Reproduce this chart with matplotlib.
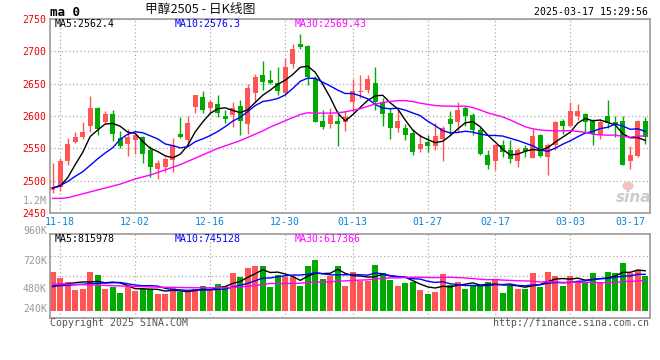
import numpy as np
import pandas as pd
import matplotlib
matplotlib.use('Agg')
import matplotlib.pyplot as plt
from matplotlib.patches import Ellipse

plt.rcParams['font.family'] = ['DejaVu Sans Mono']
plt.rcParams['font.size'] = 7.1

# trading days (CZCE), holidays removed
days = pd.bdate_range('2024-11-15', '2025-03-17')
holidays = pd.to_datetime(['2025-01-01', '2025-01-28', '2025-01-29', '2025-01-30',
                           '2025-01-31', '2025-02-03', '2025-02-04'])
days = days[~days.isin(holidays)]

opens = [2486, 2491, 2531, 2560, 2567, 2584, 2612, 2590, 2603, 2566,
         2557, 2563, 2567, 2547, 2518, 2521, 2532, 2572, 2563, 2614,
         2629, 2613, 2618, 2600, 2602, 2615, 2588, 2636, 2663, 2655,
         2651, 2635, 2680, 2711, 2708, 2657, 2593, 2588, 2592, 2590,
         2621, 2637, 2640, 2651, 2622, 2605, 2581, 2581, 2574, 2549,
         2560, 2554, 2564, 2596, 2590, 2613, 2602, 2579, 2540, 2530,
         2555, 2548, 2530, 2550, 2536, 2571, 2537, 2555, 2593, 2585,
         2600, 2603, 2594, 2571, 2600, 2591, 2593, 2531, 2538, 2593]
highs = [2528, 2535, 2566, 2576, 2591, 2631, 2614, 2607, 2609, 2577,
         2580, 2573, 2569, 2553, 2532, 2537, 2566, 2599, 2600, 2633,
         2639, 2625, 2632, 2610, 2621, 2624, 2650, 2665, 2685, 2671,
         2676, 2689, 2711, 2726, 2710, 2661, 2609, 2613, 2607, 2607,
         2657, 2663, 2663, 2675, 2627, 2613, 2610, 2587, 2580, 2572,
         2570, 2589, 2584, 2608, 2621, 2615, 2604, 2583, 2548, 2557,
         2563, 2563, 2551, 2555, 2580, 2573, 2558, 2592, 2596, 2622,
         2618, 2604, 2596, 2596, 2625, 2600, 2600, 2553, 2594, 2598]
lows = [2481, 2484, 2524, 2558, 2565, 2576, 2571, 2588, 2562, 2550,
        2539, 2542, 2528, 2506, 2503, 2513, 2513, 2566, 2554, 2605,
        2605, 2604, 2599, 2589, 2583, 2571, 2573, 2622, 2640, 2650,
        2632, 2632, 2674, 2704, 2648, 2590, 2580, 2581, 2553, 2577,
        2606, 2627, 2635, 2610, 2584, 2565, 2576, 2563, 2540, 2545,
        2545, 2548, 2530, 2571, 2576, 2584, 2571, 2540, 2519, 2516,
        2537, 2527, 2521, 2537, 2535, 2537, 2509, 2548, 2572, 2583,
        2594, 2576, 2555, 2564, 2581, 2568, 2524, 2518, 2537, 2557]
closes = [2490, 2530, 2557, 2568, 2575, 2612, 2580, 2603, 2573, 2553,
          2567, 2570, 2541, 2521, 2527, 2534, 2555, 2568, 2589, 2632,
          2610, 2621, 2604, 2596, 2612, 2593, 2643, 2660, 2652, 2651,
          2638, 2675, 2704, 2707, 2660, 2591, 2583, 2602, 2588, 2598,
          2639, 2639, 2657, 2622, 2603, 2581, 2592, 2571, 2545, 2557,
          2553, 2569, 2581, 2588, 2609, 2600, 2579, 2541, 2524, 2555,
          2545, 2534, 2548, 2546, 2569, 2538, 2555, 2590, 2585, 2607,
          2608, 2591, 2572, 2591, 2589, 2588, 2524, 2540, 2593, 2567]
# volume, thousand lots
volumes_k = [796, 673, 592, 422, 449, 796, 734, 449, 490, 367,
             524, 408, 449, 449, 347, 347, 490, 381, 381, 449,
             504, 449, 551, 510, 775, 694, 877, 918, 918, 490,
             734, 680, 680, 510, 918, 1034, 647, 714, 912, 504,
             796, 612, 612, 938, 775, 626, 504, 571, 592, 422,
             341, 388, 749, 524, 592, 449, 524, 524, 592, 626,
             367, 504, 449, 449, 775, 490, 796, 714, 504, 714,
             592, 592, 775, 592, 796, 775, 979, 775, 830, 714]

# moving averages before enough bars are in the window (carried from earlier days)
ma5_head = [2489, 2492, 2505, 2525]
ma10_head = [2489, 2493, 2499, 2507, 2514, 2524, 2534, 2543, 2551]
ma30_head = [2473, 2473, 2474, 2477, 2480, 2483, 2486, 2489, 2492, 2495,
             2499, 2503, 2506, 2509, 2513, 2517, 2521, 2525, 2530, 2535,
             2540, 2545, 2550, 2554, 2558, 2562, 2567, 2572, 2577]
vol_ma5_head = [490, 530, 550, 570]
vol_ma10_head = [500, 510, 520, 530, 540, 550, 560, 565, 570]
vol_ma30_head = [545, 545, 540, 535, 530, 525, 520, 515, 510, 505,
                 500, 495, 490, 485, 480, 477, 475, 473, 470, 468,
                 467, 467, 468, 470, 475, 485, 500, 515, 535]

tick_dates = ['2024-11-18', '2024-12-02', '2024-12-16', '2024-12-30', '2025-01-13',
              '2025-01-27', '2025-02-17', '2025-03-03', '2025-03-17']
price_ticks = [2450, 2500, 2550, 2600, 2650, 2700, 2750]
vol_labels = ['1.2M', '960K', '720K', '480K', '240K']
vol_label_y = [201, 230.7, 260.7, 289.3, 309.3]  # pixel rows
legend_price = ['MA5:2562.4', 'MA10:2576.3', 'MA30:2569.43']
legend_vol = ['MA5:815978', 'MA10:745128', 'MA30:617366']
ma_colors = ['black', '#0000ff', '#ff00ff']

RED = '#ff5555'
GREEN = '#00aa00'
GRID = '#aaaaaa'
BORDER = '#999999'


def moving_avg(values, n, head):
    s = pd.Series(values, dtype=float).rolling(n).mean()
    s.iloc[:n - 1] = head
    return s.values


o = np.array(opens, float)
h = np.array(highs, float)
l = np.array(lows, float)
c = np.array(closes, float)
vol = np.array(volumes_k, float) * 1000
x = np.arange(len(days))
cols = np.where(c >= o, RED, GREEN)

W, H = 660, 360
fig = plt.figure(figsize=(6.6, 3.6), dpi=100)


def px_axes(left, top, right, bottom):
    return fig.add_axes([left / W, 1 - bottom / H, (right - left) / W, (bottom - top) / H])


ax = px_axes(50, 18.7, 649.5, 213.3)
axv = px_axes(50, 234.3, 649.5, 318)

tick_idx = [days.get_loc(pd.Timestamp(d)) for d in tick_dates]
tick_lbl = [d[5:] for d in tick_dates]

# candles
ax.vlines(x, l, h, colors=cols, lw=1, zorder=2)
ax.bar(x, np.maximum(np.abs(c - o), 0.8), bottom=np.minimum(o, c), width=0.7,
       color=cols, linewidth=0, zorder=2)
for n, head, col in zip([5, 10, 30], [ma5_head, ma10_head, ma30_head], ma_colors):
    ax.plot(x, moving_avg(closes, n, head), color=col, lw=1, zorder=3)

ax.set_xlim(-0.36, 79.57)
ax.set_ylim(2450, 2750)
ax.set_yticks(price_ticks)
ax.set_xticks(tick_idx)
ax.set_xticklabels(tick_lbl, color='#0a84d8')
ax.get_xticklabels()[-1].set_ha('right')
ax.tick_params(axis='y', length=0, pad=2.5, labelcolor='#ee0000')
ax.tick_params(axis='x', length=0, pad=3)
ax.grid(True, color=GRID, ls=(0, (1, 2)), lw=0.9, zorder=0)
ax.get_xgridlines()[-1].set_visible(False)

# volume
axv.bar(x, vol, width=0.8, color=cols, linewidth=0, zorder=2)
for n, head, col in zip([5, 10, 30], [vol_ma5_head, vol_ma10_head, vol_ma30_head], ma_colors):
    axv.plot(x, moving_avg(volumes_k, n, head) * 1000, color=col, lw=1, zorder=3)
axv.set_xlim(-0.36, 79.57)
axv.set_ylim(-150000, 1560000)
axv.set_xticks(tick_idx)
axv.set_yticks([306000, 714000, 1122000])
axv.tick_params(length=0, labelbottom=False, labelleft=False)
axv.grid(True, color=GRID, ls=(0, (1, 2)), lw=0.9, zorder=0)
axv.get_xgridlines()[-1].set_visible(False)

for a in (ax, axv):
    a.set_axisbelow(True)
    for sp in a.spines.values():
        sp.set_color(BORDER)
        sp.set_linewidth(1.2)

# header / legends
fig.text(50 / W, 1 - 12 / H, 'ma 0', fontsize=9, weight='bold', va='center')
fig.text(200 / W, 1 - 10 / H, '甲醇2505 - 日K线图', family=['Noto Sans CJK SC', 'DejaVu Sans'],
         fontsize=9.2, ha='center', va='center', color='#111111')
fig.text(648 / W, 1 - 12 / H, '2025-03-17 15:29:56', ha='right', va='center')
for txt, xp, col in zip(legend_price, [55, 175, 295], ma_colors):
    fig.text(xp / W, 1 - 24.3 / H, txt, color=col, va='center')
for txt, xp, col in zip(legend_vol, [55, 175, 295], ma_colors):
    fig.text(xp / W, 1 - 238.5 / H, txt, color=col, va='center')
for txt, yp in zip(vol_labels, vol_label_y):
    fig.text(47 / W, 1 - yp / H, txt, color='#999999', ha='right', va='center')

fig.text(50 / W, 1 - 323.5 / H, 'Copyright 2025 SINA.COM', color='#555555', va='center')
fig.text(649 / W, 1 - 323.5 / H, 'http://finance.sina.com.cn', color='#555555', ha='right', va='center')

# sina watermark
fig.add_artist(Ellipse((628 / W, 1 - 186 / H), 10 / W, 7 / H, transform=fig.transFigure,
                       color='#f5c0c0', zorder=1))
fig.text(634 / W, 1 - 197 / H, 'sina', fontsize=11, style='italic', weight='bold',
         family='DejaVu Sans', color='#cccccc', ha='center', va='center')

fig.savefig('out.png', dpi=100)
